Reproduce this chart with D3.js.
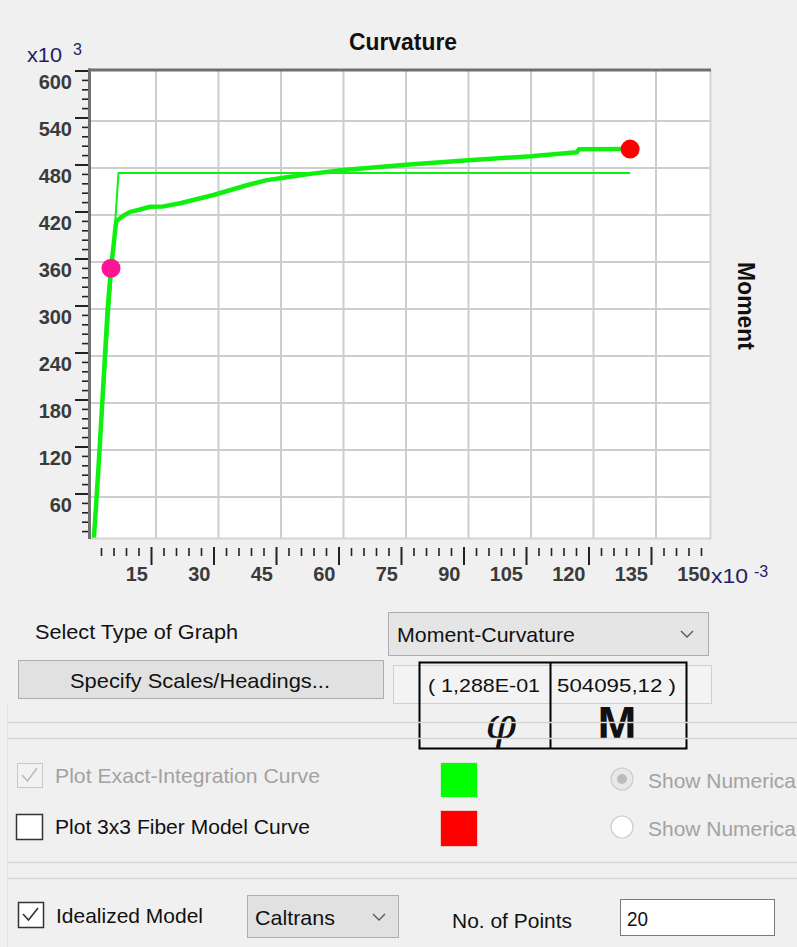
<!DOCTYPE html>
<html>
<head>
<meta charset="utf-8">
<script src="https://cdn.jsdelivr.net/npm/d3@7"></script>
<style>
  html, body { margin: 0; padding: 0; background: #F0F0F0; }
  svg { display: block; font-family: "Liberation Sans", Arial, sans-serif; }
</style>
</head>
<body>
<svg id="chart" width="797" height="947"></svg>
<script>
// ---------- data (curvature in x10^-3, moment in x10^3) ----------
const exactCurvature = [0, 0.75, 1.45, 2.1, 2.75, 3.4, 4.2, 4.8, 5.15, 5.45, 7.15, 8.8, 11.2, 13.6, 16.8, 20.8, 28.8, 36.8, 41.6, 44.8, 52, 60, 75, 90, 105, 116, 116.5, 128.8];
const exactMoment    = [0, 60, 120, 180, 240, 300, 352, 380, 398, 412, 419, 424, 427, 430.5, 431, 435, 445.5, 458, 464.5, 467, 472.5, 477.5, 484, 490, 495, 500, 504, 504.1];
const idealCurvature = [0, 6.0, 128.8];
const idealMoment    = [0, 473.5, 473.5];
const yieldPoint     = [4.2, 352];
const ultimatePoint  = [128.8, 504.1];
const xMajorTicks = [15, 30, 45, 60, 75, 90, 105, 120, 135];
const xTickLabels = ["15", "30", "45", "60", "75", "90", "105", "120", "135", "150"];
const xLabelValues = [15, 30, 45, 60, 75, 90, 105, 120, 135, 150];
const yMajorTicks = [60, 120, 180, 240, 300, 360, 420, 480, 540, 600];
const yGridValues = [60, 120, 180, 240, 300, 360, 420, 480, 540];
const xMinorStep = 3, yMinorStep = 12;

const svg = d3.select("#chart");
const FONT = '"Liberation Sans", Arial, sans-serif';

// ---------- scales ----------
const xGrid = d3.scaleLinear().domain([0, 150]).range([93.5, 718.5]);
const yGrid = d3.scaleLinear().domain([0, 600]).range([544, 74]);
const xTick = d3.scaleLinear().domain([0, 150]).range([88.5, 713.5]);
const yTick = d3.scaleLinear().domain([0, 600]).range([540.5, 70.5]);

const plot = { x: 90, y: 70, w: 621, h: 469 };

// ---------- plot area ----------
svg.append("rect").attr("x", plot.x).attr("y", plot.y).attr("width", plot.w).attr("height", plot.h).attr("fill", "#FFFFFF");

svg.append("clipPath").attr("id", "clip").append("rect")
  .attr("x", plot.x + 1).attr("y", plot.y + 1).attr("width", plot.w - 2).attr("height", plot.h - 2);

const inner = svg.append("g").attr("clip-path", "url(#clip)");

// grid
inner.selectAll(".vg").data(xMajorTicks).enter().append("line")
  .attr("x1", d => xGrid(d)).attr("x2", d => xGrid(d))
  .attr("y1", plot.y).attr("y2", plot.y + plot.h)
  .attr("stroke", "#CDCDCD").attr("stroke-width", 2);
inner.selectAll(".hg").data(yGridValues).enter().append("line")
  .attr("y1", d => yGrid(d)).attr("y2", d => yGrid(d))
  .attr("x1", plot.x).attr("x2", plot.x + plot.w)
  .attr("stroke", "#CDCDCD").attr("stroke-width", 2);

// curves
const exactData = exactCurvature.map((c, i) => [c, exactMoment[i]]);
const idealData = idealCurvature.map((c, i) => [c, idealMoment[i]]);
const line = d3.line().x(d => xGrid(d[0])).y(d => yGrid(d[1]));

inner.append("path").datum(idealData).attr("d", line)
  .attr("fill", "none").attr("stroke", "#10F010").attr("stroke-width", 2);
inner.append("path").datum(exactData).attr("d", line)
  .attr("fill", "none").attr("stroke", "#10F010").attr("stroke-width", 4.5)
  .attr("stroke-linejoin", "round");

inner.append("circle").attr("cx", xGrid(yieldPoint[0])).attr("cy", yGrid(yieldPoint[1]))
  .attr("r", 9.5).attr("fill", "#FF1493");
inner.append("circle").attr("cx", xGrid(ultimatePoint[0])).attr("cy", yGrid(ultimatePoint[1]))
  .attr("r", 9.5).attr("fill", "#FF0000");

// borders
svg.append("line").attr("x1", plot.x + plot.w - 0.5).attr("x2", plot.x + plot.w - 0.5)
  .attr("y1", plot.y).attr("y2", plot.y + plot.h).attr("stroke", "#D4D4D4").attr("stroke-width", 2);
svg.append("line").attr("x1", plot.x).attr("x2", plot.x + plot.w)
  .attr("y1", plot.y + plot.h - 0.5).attr("y2", plot.y + plot.h - 0.5).attr("stroke", "#D4D4D4").attr("stroke-width", 2);
svg.append("line").attr("x1", 89.5).attr("x2", 89.5)
  .attr("y1", 68.5).attr("y2", plot.y + plot.h).attr("stroke", "#707070").attr("stroke-width", 3);
svg.append("line").attr("x1", 88).attr("x2", plot.x + plot.w)
  .attr("y1", 70).attr("y2", 70).attr("stroke", "#707070").attr("stroke-width", 3);

// ---------- axes ----------
const range = (a, b, s) => d3.range(a, b + 1e-9, s);
const xMinor = range(xMinorStep, 147, xMinorStep).filter(v => v % 15 !== 0);
const yMinor = range(yMinorStep, 588, yMinorStep).filter(v => v % 60 !== 0);

function styleAxis(g) {
  g.select(".domain").remove();
  g.selectAll("line").attr("stroke", "#222");
  g.attr("font-family", FONT);
}

// x minor
svg.append("g").attr("transform", "translate(0,548)")
  .call(d3.axisBottom(xTick).tickValues(xMinor).tickSize(8).tickFormat(""))
  .call(styleAxis)
  .call(g => g.selectAll("line").attr("stroke-width", 1.6));
// x major
svg.append("g").attr("transform", "translate(0,547)")
  .call(d3.axisBottom(xTick).tickValues(xMajorTicks).tickSize(18).tickFormat(""))
  .call(styleAxis)
  .call(g => g.selectAll("line").attr("stroke-width", 2));
// x labels (right-aligned to tick position, as in reference)
svg.append("g").attr("transform", "translate(0,547)")
  .call(d3.axisBottom(xTick).tickValues(xLabelValues).tickSize(0).tickPadding(20)
    .tickFormat((d, i) => xTickLabels[i]))
  .call(styleAxis)
  .call(g => g.selectAll("text").attr("font-size", 20).attr("font-weight", "bold").attr("fill", "#3A3A3A")
    .attr("text-anchor", "end").attr("dx", -3.5));

// y minor
svg.append("g").attr("transform", "translate(88,0)")
  .call(d3.axisLeft(yTick).tickValues(yMinor).tickSize(6).tickFormat(""))
  .call(styleAxis)
  .call(g => g.selectAll("line").attr("stroke-width", 1.6));
// y major + labels
svg.append("g").attr("transform", "translate(88,0)")
  .call(d3.axisLeft(yTick).tickValues(yMajorTicks).tickSize(13).tickPadding(3))
  .call(styleAxis)
  .call(g => g.selectAll("line").attr("stroke-width", 2))
  .call(g => g.selectAll("text").attr("font-size", 20).attr("font-weight", "bold").attr("fill", "#3A3A3A").attr("dy", "0.9em"));

// exponent markers
const navy = "#1E1E66";
svg.append("text").attr("x", 27).attr("y", 62).attr("font-size", 20).attr("fill", navy).attr("font-family", FONT)
  .attr("textLength", 35).attr("lengthAdjust", "spacingAndGlyphs").text("x10");
svg.append("text").attr("x", 73).attr("y", 55).attr("font-size", 16).attr("fill", navy).attr("font-family", FONT).text("3");
svg.append("text").attr("x", 711).attr("y", 583).attr("font-size", 20).attr("fill", navy).attr("font-family", FONT)
  .attr("textLength", 37).attr("lengthAdjust", "spacingAndGlyphs").text("x10");
svg.append("text").attr("x", 754).attr("y", 577).attr("font-size", 16).attr("fill", navy).attr("font-family", FONT).text("-3");

// titles
svg.append("text").attr("x", 403).attr("y", 50).attr("text-anchor", "middle")
  .attr("font-size", 24).attr("font-weight", "bold").attr("fill", "#111").attr("font-family", FONT)
  .attr("textLength", 108).attr("lengthAdjust", "spacingAndGlyphs").text("Curvature");
svg.append("text").attr("transform", "translate(738,306) rotate(90)").attr("text-anchor", "middle")
  .attr("font-size", 23).attr("font-weight", "bold").attr("fill", "#111").attr("font-family", FONT)
  .attr("textLength", 88).attr("lengthAdjust", "spacingAndGlyphs").text("Moment");

// ---------- lower form panel ----------
function label(x, y, s, opt = {}) {
  const t = svg.append("text").attr("x", x).attr("y", y)
    .attr("dominant-baseline", "central")
    .attr("font-family", opt.family || FONT)
    .attr("font-size", opt.size || 20)
    .attr("fill", opt.fill || "#111")
    .attr("text-anchor", opt.anchor || "start")
    .text(s);
  if (opt.len) t.attr("textLength", opt.len).attr("lengthAdjust", "spacingAndGlyphs");
  if (opt.style) t.attr("font-style", opt.style);
  if (opt.weight) t.attr("font-weight", opt.weight);
  return t;
}
function box(x, y, w, h, fill, stroke, sw = 1) {
  return svg.append("rect").attr("x", x + 0.5).attr("y", y + 0.5).attr("width", w).attr("height", h)
    .attr("fill", fill).attr("stroke", stroke).attr("stroke-width", sw);
}
function chevron(cx, cy) {
  svg.append("polyline")
    .attr("points", `${cx - 6},${cy - 3} ${cx},${cy + 3} ${cx + 6},${cy - 3}`)
    .attr("fill", "none").attr("stroke", "#555").attr("stroke-width", 1.3);
}
function hline(y, x1, x2, c) {
  svg.append("line").attr("x1", x1).attr("x2", x2).attr("y1", y).attr("y2", y).attr("stroke", c).attr("stroke-width", 1.5);
}

label(35, 631, "Select Type of Graph", { len: 203, size: 21 });
box(388, 612, 320, 43, "#E5E5E5", "#ADADAD");
label(397, 634, "Moment-Curvature", { len: 178, size: 21 });
chevron(687, 634);

box(18, 660, 365, 38, "#E1E1E1", "#ADADAD");
label(200, 680, "Specify Scales/Headings...", { len: 260, size: 21, anchor: "middle" });

box(393, 665, 318, 38, "#F3F3F3", "#CFCFCF");
box(419, 662, 267, 86, "none", "#000", 2);
svg.append("line").attr("x1", 550.5).attr("x2", 550.5).attr("y1", 662).attr("y2", 749).attr("stroke", "#000").attr("stroke-width", 2);
label(428, 685, "( 1,288E-01", { len: 112, size: 19 });
label(557, 685, "504095,12 )", { len: 119, size: 19 });
label(501, 723, "φ", { size: 44, style: "italic", family: '"DejaVu Serif", "Liberation Serif", serif', anchor: "middle" });
label(617, 723, "M", { size: 46, anchor: "middle", len: 39, weight: "bold" });

// group separators
hline(722.5, 8, 797, "#D8D8D8");
hline(738.5, 8, 797, "#D8D8D8");
hline(862.5, 8, 797, "#D8D8D8");
hline(878.5, 8, 797, "#D8D8D8");
svg.append("line").attr("x1", 7.5).attr("x2", 7.5).attr("y1", 705).attr("y2", 947).attr("stroke", "#E2E2E2").attr("stroke-width", 1);

// row 1 (disabled)
box(17, 763, 25, 24, "#F2F2F2", "#C8C8C8");
svg.append("polyline").attr("points", "22,775 27.5,781 37,768").attr("fill", "none").attr("stroke", "#BBBBBB").attr("stroke-width", 1.6);
label(55, 775, "Plot Exact-Integration Curve", { len: 265, size: 21, fill: "#A2A2A2" });
box(440, 762, 37, 35, "#00FF00", "#CFEFCF");
svg.append("circle").attr("cx", 622).attr("cy", 779).attr("r", 11).attr("fill", "#E8E8E8").attr("stroke", "#CCCCCC").attr("stroke-width", 1.2);
svg.append("circle").attr("cx", 622).attr("cy", 779).attr("r", 5).attr("fill", "#BBBBBB");
label(648, 780, "Show Numerica", { size: 21, fill: "#A2A2A2", len: 148 });

// row 2
box(16, 814, 26, 25, "#FFFFFF", "#333333", 1.5);
label(55, 826, "Plot 3x3 Fiber Model Curve", { len: 255, size: 21 });
box(440, 810, 37, 36, "#FF0000", "#F0C8C8");
svg.append("circle").attr("cx", 622).attr("cy", 827).attr("r", 11).attr("fill", "#FFFFFF").attr("stroke", "#CCCCCC").attr("stroke-width", 1.2);
label(648, 828, "Show Numerica", { size: 21, fill: "#A2A2A2", len: 148 });

// row 3
box(18, 902, 25, 25, "#FFFFFF", "#333333", 1.5);
svg.append("polyline").attr("points", "23,914 28.5,920 38,908").attr("fill", "none").attr("stroke", "#333").attr("stroke-width", 1.6);
label(56, 915, "Idealized Model", { len: 147, size: 21 });
box(247, 895, 151, 42, "#E1E1E1", "#ADADAD");
label(255, 917, "Caltrans", { len: 80, size: 21 });
chevron(379, 917);
label(452, 920, "No. of Points", { len: 120, size: 21 });
box(620, 899, 154, 36, "#FFFFFF", "#7A7A7A");
label(627, 918, "20", { len: 21, size: 21 });
</script>
</body>
</html>
